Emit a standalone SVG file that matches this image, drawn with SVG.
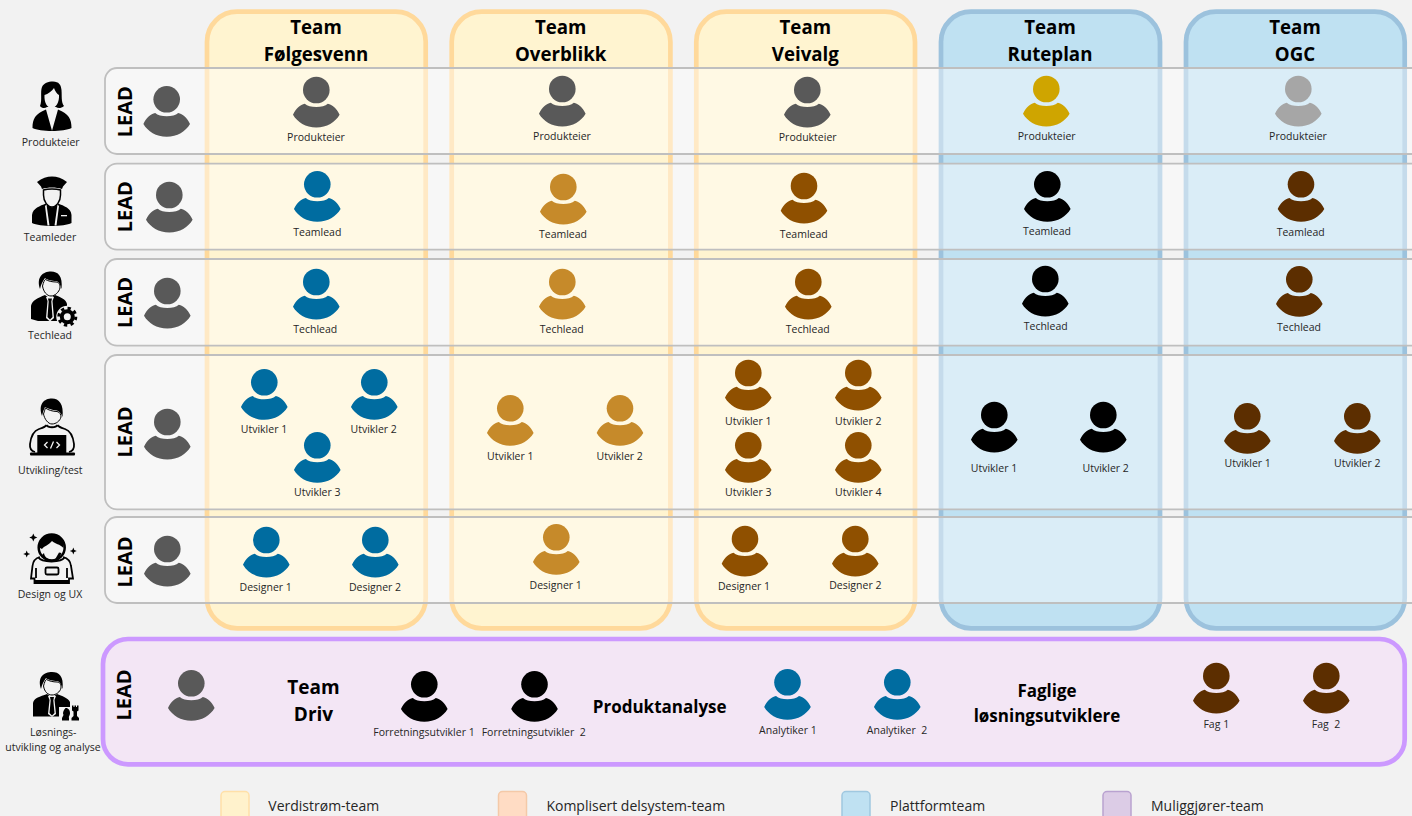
<svg xmlns="http://www.w3.org/2000/svg" width="1412" height="816" viewBox="0 0 1412 816">
<style>
text{font-family:"Open Sans","Noto Sans","Liberation Sans",sans-serif;text-anchor:middle}
.lb{font-size:10.5px;fill:#262626}
.lg{font-size:14px;fill:#262626;text-anchor:start}
.tt{font-size:18.7px;font-weight:700;fill:#000}
.bt{font-size:17px;font-weight:700;fill:#000}
.bd{font-size:19px;font-weight:700;fill:#000}
.ld{font-size:20px;font-weight:700;fill:#000}
.vs{fill:#FFF4D0;stroke:#FFD99B;stroke-width:4.7}
.pf{fill:#BFE1F2;stroke:#9CC2DD;stroke-width:4.7}
.row{fill:#fff;fill-opacity:.42;stroke:#BFBFBF;stroke-width:1.8}
.en{fill:#F3E6F5;stroke:#CC99FF;stroke-width:4.7}
.gr{fill:#595959}.bl{fill:#006CA0}.oc{fill:#C68A2A}.br{fill:#8F5000}.dk{fill:#5C2E00}.go{fill:#CFA500}.lt{fill:#A6A6A6}.bk{fill:#000}
.ic{fill:#000}.cut{fill:#F2F2F2}.ol{fill:none;stroke:#000;stroke-width:1.8}.co{fill:none;stroke:#F2F2F2;stroke-width:1.3}
</style>
<defs>
<g id="p"><circle r="13.3"/><path d="M-23.3,24.7C-20.5,18.5-16,14.8-11.500,13.800C-9,16.200-5,17 0,17C5,17 9,16.200 11.500,13.800C16,14.800 20.500,18.500 23.300,24.700C19,32 10.500,37.500 0,37.500C-10.500,37.500-19,32-23.300,24.700Z"/></g>
</defs>
<rect width="1412" height="816" fill="#F2F2F2"/>

<g id="team-folgesvenn-box"><rect class="vs" x="207" y="11.7" width="218.7" height="616.6" rx="30"/></g>
<g id="team-overblikk-box"><rect class="vs" x="451.7" y="11.7" width="218.7" height="616.6" rx="30"/></g>
<g id="team-veivalg-box"><rect class="vs" x="696.3" y="11.7" width="218.7" height="616.6" rx="30"/></g>
<g id="team-ruteplan-box"><rect class="pf" x="941" y="11.7" width="219" height="616.6" rx="30"/></g>
<g id="team-ogc-box"><rect class="pf" x="1186" y="11.7" width="218.7" height="616.6" rx="30"/></g>

<g id="team-titles">
<text class="tt" x="316" y="34">Team</text><text class="tt" x="316" y="61">Følgesvenn</text>
<text class="tt" x="560.7" y="34">Team</text><text class="tt" x="560.7" y="61">Overblikk</text>
<text class="tt" x="805.3" y="34">Team</text><text class="tt" x="805.3" y="61">Veivalg</text>
<text class="tt" x="1050" y="34">Team</text><text class="tt" x="1050" y="61">Ruteplan</text>
<text class="tt" x="1295" y="34">Team</text><text class="tt" x="1295" y="61">OGC</text>
</g>

<g id="row-produkteier"><rect class="row" x="105" y="68" width="1340" height="86" rx="12"/><text class="ld" transform="translate(132,111.7) rotate(-90)">LEAD</text></g>
<g id="row-teamlead"><rect class="row" x="105" y="163.7" width="1340" height="86" rx="12"/><text class="ld" transform="translate(132,206.7) rotate(-90)">LEAD</text></g>
<g id="row-techlead"><rect class="row" x="105" y="259" width="1340" height="86.7" rx="12"/><text class="ld" transform="translate(132,302.5) rotate(-90)">LEAD</text></g>
<g id="row-utvikling"><rect class="row" x="105" y="355" width="1340" height="154.3" rx="12"/><text class="ld" transform="translate(132,432) rotate(-90)">LEAD</text></g>
<g id="row-design"><rect class="row" x="105" y="517" width="1340" height="86" rx="12"/><text class="ld" transform="translate(132,562) rotate(-90)">LEAD</text></g>

<g id="team-enabling"><rect class="en" x="103" y="639" width="1301.7" height="125.3" rx="25"/>
<text class="ld" transform="translate(131,695) rotate(-90)">LEAD</text>
<text class="bd" x="313.5" y="694">Team</text><text class="bd" x="313.5" y="720.7">Driv</text>
<text class="bt" x="659.7" y="712.7">Produktanalyse</text>
<text class="bt" x="1047" y="696.7">Faglige</text><text class="bt" x="1047" y="722">løsningsutviklere</text></g>

<g id="role-produkteier">
<path class="ic" d="M40,106C42.500,100 40,92 42,87C44,83 48,81.500 53,81.500C59,81.500 61,85 61.500,90C62,96 61,102 64,106C61,108.500 58,108.500 56,107L47,107C45,108.500 42,108.500 40,106Z"/>
<path class="cut" d="M44.500,95C48,94 52,91 54,88C55,91 57,94 59,95C59.500,102 56,108 51.700,108C47,108 44,102 44.500,95Z"/>
<path class="ic" d="M32.500,128C32.500,119 35,114 46,109.500L52,130.700L58,109.500C69,114 71.500,119 71.500,128C64,132 40,132 32.500,128Z"/>
<text class="lb" x="50.700" y="146">Produkteier</text></g>

<g id="role-teamleder">
<path class="ic" d="M37,182C42,178 47,176.500 52,176.500C57,176.500 62,178 67,182L63,186.500L62,189C56,187 48,187 42,189L41,186.500Z"/>
<path class="cut" d="M43.500,190C48,188.500 56,188.500 60.500,190V195C60.500,202 56,207 52,207C48,207 43.500,202 43.500,195Z" stroke="#000" stroke-width="1.500"/>
<path class="ic" d="M32,223V215C33,208 40,206 46,203.500L52,207.500L58,203.500C64,206 71,208 71.500,215V223C64,227 40,227 32,223Z"/>
<path class="cut" d="M46.500,204.500L49.500,225.500H47.500L45,206ZM57.500,204.500L54.500,225.500H56.500L59,206Z"/>
<path class="cut" d="M61,215h6v1.300h-6z"/>
<text class="lb" x="50" y="241">Teamleder</text></g>

<g id="role-techlead">
<path class="ic" d="M40,289C36,277 43,271.500 51,271.500C58,271.500 63,276 61.500,289C60,283 58,281 56,281C52,281 47,280 45,278C43,281 41,284 40,289Z"/>
<path class="cut" d="M42.500,286C43.500,282 44.500,280 45.500,279.500C48,281 52,282 56,282C59,282 60,284 60,288C59,292 55,296 51,296C47,296 43.500,292 42.500,286Z" stroke="#000" stroke-width="1"/>
<path class="ic" d="M31,319V306C32,300 38,298 45,295L50,299L55,295C60,297 66,299 67,304V321H38Z"/>
<path class="cut" d="M46,297H54L52.500,301L54,318L50,321.500L46,318L47.500,301Z"/>
<path class="ic" d="M48,298.500H52L51.300,301.500L52.500,317L50,319.500L47.500,317L48.700,301.500Z"/>
<circle class="cut" cx="67.300" cy="316.700" r="11"/>
<circle class="ic" cx="67.300" cy="316.700" r="7.500"/>
<circle cx="67.300" cy="316.700" r="8.500" fill="none" stroke="#000" stroke-width="3" stroke-dasharray="3.300 3.370"/>
<circle class="cut" cx="67.300" cy="316.700" r="3.500"/>
<text class="lb" x="50" y="339">Techlead</text></g>

<g id="role-utvikling">
<path class="ic" d="M42,416C38,404 44,398.500 52,398.500C59,398.500 64,404 62.500,417C61,413 59,411 57,410.500C52,410 47,408 45,407C43.500,410 42.500,413 42,416Z"/>
<path class="cut" d="M43.500,414C44.500,411 45,409 45.500,408C48,410 53,411.500 57,411.500C60,412 61,415 61,417C60,421 56,424 52,424C48,424 44.500,419 43.500,414Z" stroke="#000" stroke-width="1"/>
<path class="ol" d="M46.500,425C45.500,427 42,428 39,429C33,431 31,436 30,444C29.500,449 31,451 35,452M57.500,425C58.500,427 62,428 65,429C71,431 73,436 74,444C74.500,449 73,451 69,452"/>
<path class="ol" d="M46.500,425C48,428 56,428 57.500,425"/>
<rect class="ic" x="37.300" y="435" width="29" height="19"/>
<rect class="ic" x="30" y="452.500" width="45" height="3" rx="1"/>
<path class="co" d="M47.500,442L44.500,445L47.500,448M56.500,442L59.500,445L56.500,448M53.500,441.500L50.500,448.500"/>
<text class="lb" x="50.300" y="474">Utvikling/test</text></g>

<g id="role-design">
<circle cx="51.700" cy="547.500" r="13" fill="none" stroke="#000" stroke-width="2.500"/>
<path class="ic" d="M40,548C38.500,539 44,535 52,535C60,535 65,540 63.500,548C60,544 55,544 52,541C49,545 44,546 42,549Z"/>
<path class="ic" d="M44,553C44.500,558 50,561 55,559.500L59,552.500L61.500,553L58,561C52,563.500 44,561 42,555Z"/>
<path class="ol" d="M40,557C36,558 33,561 32.500,566L31,578.500H34.500V583H69V578.500H73L71,566C70.500,561 67,558 63,557M38,557C42,563 61,563 65,557M36,568V578M67,568V578"/>
<rect x="45.500" y="567.500" width="13" height="7" rx="1.500" fill="none" stroke="#000" stroke-width="1.800"/>
<path class="ol" d="M35,581H69"/>
<path class="ic" d="M33.300,533.500L34.500,536.300L37.300,537.500L34.500,538.700L33.300,541.500L32.100,538.700L29.300,537.500L32.100,536.300ZM26.700,550.500L27.700,553L30.200,554L27.700,555L26.700,557.500L25.700,555L23.200,554L25.700,553ZM73.300,547.500L74.300,550L76.800,551L74.300,552L73.300,554.500L72.300,552L69.800,551L72.300,550Z"/>
<text class="lb" x="50" y="598.300">Design og UX</text></g>

<g id="role-losning">
<path class="ic" d="M41,689C37,677 44,672 52,672C59,672 64,676 62.500,689C61,683 59,681 57,681C53,681 48,680 46,678C44,681 42,684 41,689Z"/>
<path class="cut" d="M43.500,686C44.500,682 45.500,680 46.500,679.500C49,681 53,682 57,682C60,682 61,684 61,688C60,692 56,695 52,695C48,695 44.500,692 43.500,686Z" stroke="#000" stroke-width="1"/>
<path class="ic" d="M33,716.500V703C34,698 40,696.500 47,694L52,698L57,694C62,696 68,698 70,702V716.500Z"/>
<path class="cut" d="M48,696H56L54.500,700L56,714L52,717L48,714L49.500,700Z"/>
<path class="ic" d="M50,697H54L53.300,700.500L54.500,713L52,715.500L49.500,713L50.700,700.500Z"/>
<path class="cut" d="M59,707H81V722H59Z"/>
<path class="ic" d="M62,720.500V718L63.500,715C62.500,713 63,711 65.500,708C68,707.500 70,710 70,713C70,716 68.500,716 69,718V720.500ZM71.500,720.500V718L73.500,716V711.500L72,710.500V705.500H73.500V707H74.500V705.500H76V707H77V705.500H78.500V710.500L77,711.500V716L79,718V720.500Z"/>
<text class="lb" x="53.300" y="736.300">Løsnings-</text>
<text class="lb" x="53" y="751.300">utvikling og analyse</text></g>

<g id="lead-1"><use href="#p" class="gr" x="166.700" y="99.300"/></g>
<g id="lead-2"><use href="#p" class="gr" x="169.300" y="195"/></g>
<g id="lead-3"><use href="#p" class="gr" x="167.300" y="291"/></g>
<g id="lead-4"><use href="#p" class="gr" x="167.300" y="422"/></g>
<g id="lead-5"><use href="#p" class="gr" x="167.300" y="549"/></g>
<g id="lead-6"><use href="#p" class="gr" x="191.300" y="683.300"/></g>

<g id="f-po"><use href="#p" class="gr" x="316.300" y="90"/><text class="lb" x="316" y="141">Produkteier</text></g>
<g id="f-tl"><use href="#p" class="bl" x="317.300" y="184.300"/><text class="lb" x="317.300" y="236">Teamlead</text></g>
<g id="f-te"><use href="#p" class="bl" x="316.300" y="282"/><text class="lb" x="315.300" y="333">Techlead</text></g>
<g id="f-u1"><use href="#p" class="bl" x="264.300" y="382.300"/><text class="lb" x="264" y="433">Utvikler 1</text></g>
<g id="f-u2"><use href="#p" class="bl" x="374.300" y="382.300"/><text class="lb" x="373.700" y="433">Utvikler 2</text></g>
<g id="f-u3"><use href="#p" class="bl" x="317.300" y="445.300"/><text class="lb" x="317.300" y="496">Utvikler 3</text></g>
<g id="f-d1"><use href="#p" class="bl" x="266.300" y="540"/><text class="lb" x="265.700" y="591">Designer 1</text></g>
<g id="f-d2"><use href="#p" class="bl" x="375.300" y="540"/><text class="lb" x="375" y="591">Designer 2</text></g>

<g id="o-po"><use href="#p" class="gr" x="562.300" y="89"/><text class="lb" x="562" y="140">Produkteier</text></g>
<g id="o-tl"><use href="#p" class="oc" x="563.300" y="187"/><text class="lb" x="563" y="238">Teamlead</text></g>
<g id="o-te"><use href="#p" class="oc" x="562.300" y="282"/><text class="lb" x="561.700" y="333">Techlead</text></g>
<g id="o-u1"><use href="#p" class="oc" x="510.300" y="408.300"/><text class="lb" x="510.300" y="460">Utvikler 1</text></g>
<g id="o-u2"><use href="#p" class="oc" x="620" y="408.300"/><text class="lb" x="619.700" y="460">Utvikler 2</text></g>
<g id="o-d1"><use href="#p" class="oc" x="556.300" y="537.300"/><text class="lb" x="555.700" y="589">Designer 1</text></g>

<g id="v-po"><use href="#p" class="gr" x="807.300" y="90"/><text class="lb" x="807.700" y="141">Produkteier</text></g>
<g id="v-tl"><use href="#p" class="br" x="804" y="186"/><text class="lb" x="803.700" y="238">Teamlead</text></g>
<g id="v-te"><use href="#p" class="br" x="808.300" y="282"/><text class="lb" x="807.700" y="333">Techlead</text></g>
<g id="v-u1"><use href="#p" class="br" x="748.300" y="373"/><text class="lb" x="748.300" y="425">Utvikler 1</text></g>
<g id="v-u2"><use href="#p" class="br" x="858.300" y="373"/><text class="lb" x="858.300" y="425">Utvikler 2</text></g>
<g id="v-u3"><use href="#p" class="br" x="748.300" y="445.300"/><text class="lb" x="748.300" y="496">Utvikler 3</text></g>
<g id="v-u4"><use href="#p" class="br" x="858.300" y="445.300"/><text class="lb" x="858.300" y="496">Utvikler 4</text></g>
<g id="v-d1"><use href="#p" class="br" x="745" y="539"/><text class="lb" x="744" y="590">Designer 1</text></g>
<g id="v-d2"><use href="#p" class="br" x="855.300" y="539"/><text class="lb" x="855.300" y="589">Designer 2</text></g>

<g id="r-po"><use href="#p" class="go" x="1046.300" y="89"/><text class="lb" x="1046.700" y="140">Produkteier</text></g>
<g id="r-tl"><use href="#p" class="bk" x="1047.300" y="184.300"/><text class="lb" x="1047" y="235">Teamlead</text></g>
<g id="r-te"><use href="#p" class="bk" x="1045.300" y="279"/><text class="lb" x="1045.700" y="330">Techlead</text></g>
<g id="r-u1"><use href="#p" class="bk" x="994.300" y="415"/><text class="lb" x="994" y="472">Utvikler 1</text></g>
<g id="r-u2"><use href="#p" class="bk" x="1103.300" y="415"/><text class="lb" x="1105.700" y="472">Utvikler 2</text></g>

<g id="g-po"><use href="#p" class="lt" x="1298.300" y="89"/><text class="lb" x="1298" y="140">Produkteier</text></g>
<g id="g-tl"><use href="#p" class="dk" x="1301" y="184.300"/><text class="lb" x="1300.700" y="236">Teamlead</text></g>
<g id="g-te"><use href="#p" class="dk" x="1299.300" y="279.300"/><text class="lb" x="1299" y="331">Techlead</text></g>
<g id="g-u1"><use href="#p" class="dk" x="1247.300" y="416.300"/><text class="lb" x="1247.700" y="467">Utvikler 1</text></g>
<g id="g-u2"><use href="#p" class="dk" x="1357.300" y="416.300"/><text class="lb" x="1357.300" y="467">Utvikler 2</text></g>

<g id="e-f1"><use href="#p" class="bk" x="424.300" y="684.300"/><text class="lb" x="424" y="736">Forretningsutvikler 1</text></g>
<g id="e-f2"><use href="#p" class="bk" x="534.500" y="684.300"/><text class="lb" x="533.700" y="736" xml:space="preserve">Forretningsutvikler  2</text></g>
<g id="e-a1"><use href="#p" class="bl" x="787.500" y="682.300"/><text class="lb" x="787.900" y="734">Analytiker 1</text></g>
<g id="e-a2"><use href="#p" class="bl" x="897.300" y="682.300"/><text class="lb" x="897" y="734" xml:space="preserve">Analytiker  2</text></g>
<g id="e-g1"><use href="#p" class="dk" x="1216.300" y="676"/><text class="lb" x="1216.300" y="728">Fag 1</text></g>
<g id="e-g2"><use href="#p" class="dk" x="1326.300" y="676"/><text class="lb" x="1326" y="728" xml:space="preserve">Fag  2</text></g>

<g id="legend">
<rect x="221" y="791.500" width="28" height="36" rx="4" fill="#FFF2CC" stroke="#FFE0A8" stroke-width="1.500"/><text class="lg" x="268.300" y="811">Verdistrøm-team</text>
<rect x="498.500" y="791.500" width="28" height="36" rx="4" fill="#FFDCC4" stroke="#F4C9A8" stroke-width="1.500"/><text class="lg" x="546.400" y="811">Komplisert delsystem-team</text>
<rect x="842" y="791.500" width="28" height="36" rx="4" fill="#BFE1F2" stroke="#A0C8E0" stroke-width="1.500"/><text class="lg" x="890" y="811">Plattformteam</text>
<rect x="1103" y="791.500" width="28" height="36" rx="4" fill="#DCCCE6" stroke="#B9A2D0" stroke-width="1.500"/><text class="lg" x="1151" y="811">Muliggjører-team</text>
</g>
</svg>
